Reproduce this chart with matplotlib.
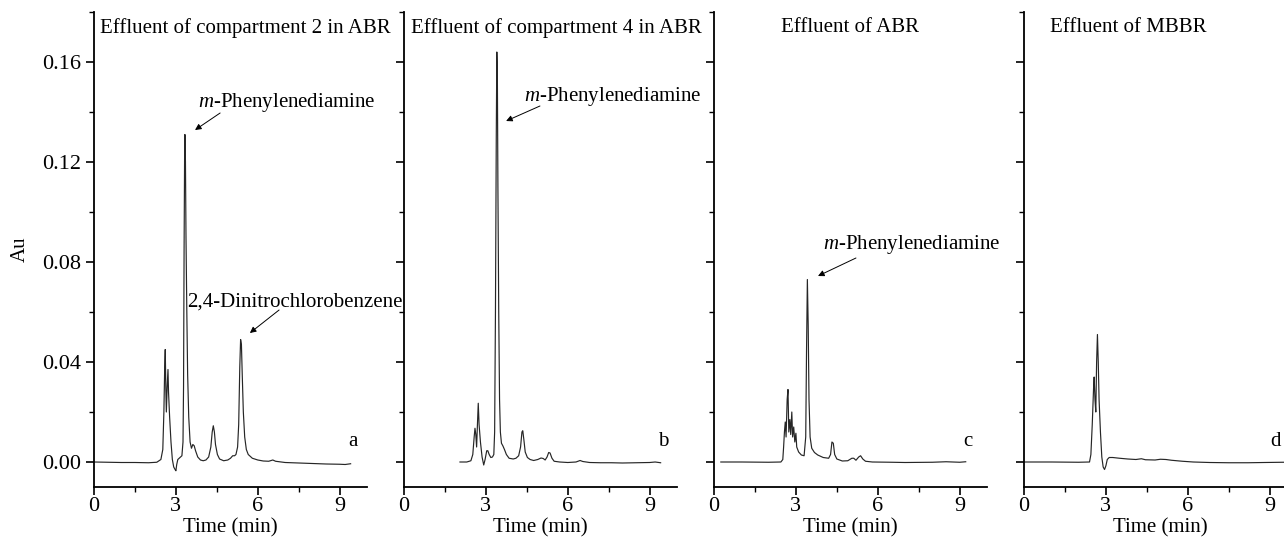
import matplotlib
matplotlib.use("Agg")
import matplotlib.pyplot as plt
from matplotlib.ticker import MultipleLocator

plt.rcParams['font.family'] = ['Liberation Serif', 'DejaVu Serif']
plt.rcParams['mathtext.fontset'] = 'custom'
plt.rcParams['mathtext.rm'] = 'Liberation Serif'
plt.rcParams['mathtext.it'] = 'Liberation Serif:italic'

# ---------------- data (time in min, absorbance in Au) ----------------
time_a = [0.0, 0.5, 1.0, 1.5, 2.0, 2.3, 2.45, 2.52, 2.56, 2.59, 2.61, 2.63, 2.65, 2.68, 2.71, 2.73,
          2.77, 2.82, 2.87, 2.92, 2.97, 3.00, 3.03, 3.07, 3.12, 3.17, 3.22, 3.26, 3.28, 3.30, 3.32,
          3.33, 3.35, 3.37, 3.40, 3.43, 3.47, 3.52, 3.57, 3.62, 3.67, 3.72, 3.80, 3.90, 4.00, 4.10,
          4.20, 4.28, 4.33, 4.37, 4.41, 4.45, 4.52, 4.60, 4.75, 4.90, 5.00, 5.08, 5.15, 5.20, 5.26,
          5.30, 5.34, 5.37, 5.40, 5.43, 5.47, 5.52, 5.58, 5.65, 5.80, 6.00, 6.20, 6.40, 6.55, 6.65,
          7.00, 7.50, 8.00, 8.50, 9.00, 9.20, 9.40]
au_a = [0.0000, -0.0001, -0.0002, -0.0002, -0.0003, -0.0001, 0.0010, 0.0050, 0.0200, 0.0380, 0.0450,
        0.0300, 0.0200, 0.0300, 0.0370, 0.0280, 0.0180, 0.0080, 0.0010, -0.0020, -0.0030, -0.0035,
        -0.0010, 0.0010, 0.0015, 0.0020, 0.0025, 0.0080, 0.0300, 0.0850, 0.1250, 0.1310, 0.1200,
        0.0900, 0.0600, 0.0350, 0.0180, 0.0080, 0.0055, 0.0070, 0.0065, 0.0045, 0.0020, 0.0008,
        0.0005, 0.0008, 0.0020, 0.0060, 0.0120, 0.0145, 0.0120, 0.0070, 0.0030, 0.0012, 0.0005,
        0.0008, 0.0015, 0.0025, 0.0025, 0.0030, 0.0060, 0.0150, 0.0380, 0.0490, 0.0470, 0.0350,
        0.0200, 0.0100, 0.0050, 0.0030, 0.0015, 0.0008, 0.0004, 0.0003, 0.0008, 0.0003, -0.0002,
        -0.0004, -0.0006, -0.0008, -0.0009, -0.0010, -0.0007]

time_b = [2.05, 2.30, 2.45, 2.52, 2.57, 2.60, 2.63, 2.66, 2.69, 2.72, 2.75, 2.80, 2.86, 2.92, 2.97,
          3.03, 3.07, 3.12, 3.18, 3.24, 3.29, 3.32, 3.35, 3.38, 3.40, 3.42, 3.44, 3.47, 3.50, 3.53,
          3.57, 3.62, 3.68, 3.75, 3.85, 4.00, 4.10, 4.20, 4.27, 4.32, 4.35, 4.39, 4.44, 4.52, 4.62,
          4.75, 4.90, 5.02, 5.10, 5.17, 5.24, 5.30, 5.35, 5.42, 5.50, 5.70, 6.00, 6.30, 6.45, 6.55,
          6.80, 7.20, 7.60, 8.00, 8.50, 9.00, 9.20, 9.40]
au_b = [0.0000, 0.0000, 0.0005, 0.0030, 0.0100, 0.0135, 0.0110, 0.0060, 0.0150, 0.0235, 0.0150,
        0.0080, 0.0020, -0.0012, 0.0010, 0.0045, 0.0045, 0.0030, 0.0018, 0.0020, 0.0030, 0.0120,
        0.0600, 0.1300, 0.1640, 0.1550, 0.1100, 0.0600, 0.0250, 0.0120, 0.0075, 0.0065, 0.0050,
        0.0030, 0.0015, 0.0012, 0.0015, 0.0025, 0.0060, 0.0120, 0.0125, 0.0090, 0.0040, 0.0018,
        0.0010, 0.0006, 0.0010, 0.0016, 0.0014, 0.0008, 0.0020, 0.0038, 0.0036, 0.0015, 0.0003,
        0.0000, -0.0002, 0.0000, 0.0006, 0.0002, -0.0002, -0.0003, -0.0003, -0.0004, -0.0003,
        -0.0002, 0.0000, -0.0003]

time_c = [0.25, 1.00, 2.00, 2.45, 2.52, 2.55, 2.58, 2.61, 2.64, 2.68, 2.71, 2.74, 2.78, 2.81, 2.85,
          2.88, 2.92, 2.96, 3.00, 3.03, 3.10, 3.20, 3.30, 3.36, 3.39, 3.42, 3.45, 3.48, 3.52, 3.58,
          3.68, 3.80, 4.00, 4.20, 4.27, 4.32, 4.37, 4.42, 4.50, 4.70, 4.90, 5.05, 5.12, 5.20, 5.30,
          5.37, 5.45, 5.55, 5.80, 6.50, 7.00, 8.00, 8.50, 9.00, 9.22]
au_c = [0.0000, 0.0000, -0.0001, 0.0000, 0.0010, 0.0060, 0.0120, 0.0160, 0.0100, 0.0250, 0.0290,
        0.0120, 0.0170, 0.0110, 0.0200, 0.0100, 0.0140, 0.0080, 0.0115, 0.0060, 0.0040, 0.0028,
        0.0025, 0.0100, 0.0450, 0.0730, 0.0550, 0.0250, 0.0100, 0.0055, 0.0038, 0.0028, 0.0018,
        0.0015, 0.0030, 0.0080, 0.0075, 0.0030, 0.0012, 0.0004, 0.0005, 0.0015, 0.0015, 0.0007,
        0.0020, 0.0025, 0.0012, 0.0003, 0.0000, -0.0001, -0.0002, -0.0001, 0.0001, -0.0001, 0.0001]

time_d = [0.00, 1.00, 2.00, 2.40, 2.45, 2.50, 2.55, 2.57, 2.60, 2.63, 2.66, 2.69, 2.72, 2.75, 2.80,
          2.85, 2.90, 2.95, 3.00, 3.05, 3.12, 3.25, 3.50, 3.80, 4.10, 4.30, 4.45, 4.80, 5.00, 5.20,
          5.40, 5.80, 6.20, 6.80, 7.50, 8.20, 8.80, 9.50, 10.00]
au_d = [0.0000, 0.0000, -0.0001, 0.0000, 0.0030, 0.0150, 0.0300, 0.0340, 0.0250, 0.0200, 0.0400,
        0.0510, 0.0400, 0.0250, 0.0120, 0.0020, -0.0020, -0.0030, -0.0015, 0.0010, 0.0018, 0.0018,
        0.0015, 0.0012, 0.0010, 0.0013, 0.0009, 0.0008, 0.0011, 0.0010, 0.0007, 0.0003, 0.0000,
        -0.0002, -0.0003, -0.0003, -0.0002, -0.0001, -0.0001]

titles = ["Effluent of compartment 2 in ABR", "Effluent of compartment 4 in ABR",
          "Effluent of ABR", "Effluent of MBBR"]
panel_letters = ["a", "b", "c", "d"]
x_ticks = [0, 3, 6, 9]
y_ticks = [0.00, 0.04, 0.08, 0.12, 0.16]
y_tick_labels = ["0.00", "0.04", "0.08", "0.12", "0.16"]

series = [(time_a, au_a), (time_b, au_b), (time_c, au_c), (time_d, au_d)]

# ---------------- figure ----------------
W, H = 1284, 541
fig = plt.figure(figsize=(W / 100, H / 100), dpi=100)

lefts_px = [94, 404, 714, 1024]
width_px = 273
top_px, bottom_px = 12, 487
FS = 15
TFS = 16

title_pos = [(0.22, 'left'), (0.26, 'left'), (4.98, 'center'), (3.81, 'center')]
letter_pos = [(9.5, 0.008), (9.5, 0.008), (9.3, 0.008), (9.2, 0.008)]

axes = []
for i, lp in enumerate(lefts_px):
    ax = fig.add_axes([lp / W, (H - bottom_px) / H, width_px / W, (bottom_px - top_px) / H])
    axes.append(ax)
    t, v = series[i]
    ax.plot(t, v, color='#262626', lw=0.85)
    ax.set_xlim(0, 10)
    ax.set_ylim(-0.01, 0.18)
    for s in ['top', 'right']:
        ax.spines[s].set_visible(False)
    for s in ['left', 'bottom']:
        ax.spines[s].set_linewidth(1.3)
    ax.set_xticks(x_ticks)
    ax.xaxis.set_minor_locator(MultipleLocator(1.5))
    ax.set_yticks(y_ticks)
    ax.yaxis.set_minor_locator(MultipleLocator(0.02))
    ax.tick_params(which='major', direction='out', length=6, width=1.2, labelsize=TFS)
    ax.tick_params(axis='x', which='major', pad=1)
    ax.tick_params(axis='y', which='major', pad=3)
    ax.tick_params(which='minor', direction='out', length=3.5, width=1.0)
    if i == 0:
        ax.set_yticklabels(y_tick_labels)
        ax.set_ylabel("Au", fontsize=FS, labelpad=9)
    else:
        ax.set_yticklabels([])
    ax.set_xlabel("Time (min)", fontsize=FS, labelpad=2)
    tx, ha = title_pos[i]
    ax.text(tx, 0.1736, titles[i], fontsize=FS, ha=ha, va='center', clip_on=False)
    lx, ly = letter_pos[i]
    ax.text(lx, ly, panel_letters[i], fontsize=FS, ha='center', va='center')

arrow_kw = dict(arrowstyle='-|>', color='black', lw=0.7, mutation_scale=9,
                shrinkA=0, shrinkB=0)

# panel a annotations (the long label runs under panel b, as in the original)
axes[0].text(3.81, 0.144, r"$m$-Phenylenediamine", fontsize=FS, ha='left', va='center')
axes[0].annotate('', xy=(3.70, 0.1328), xytext=(4.62, 0.1396), arrowprops=arrow_kw)
axes[0].text(3.40, 0.064, "2,4-Dinitrochlorobenzene", fontsize=FS, ha='left', va='center',
             clip_on=False)
axes[0].annotate('', xy=(5.71, 0.0516), xytext=(6.78, 0.0608), arrowprops=arrow_kw)

# panel b annotation
axes[1].text(4.40, 0.146, r"$m$-Phenylenediamine", fontsize=FS, ha='left', va='center')
axes[1].annotate('', xy=(3.74, 0.1364), xytext=(4.98, 0.1424), arrowprops=arrow_kw)

# panel c annotation
axes[2].text(4.0, 0.0868, r"$m$-Phenylenediamine", fontsize=FS, ha='left', va='center')
axes[2].annotate('', xy=(3.81, 0.0744), xytext=(5.2, 0.0816), arrowprops=arrow_kw)

fig.savefig("out.png", dpi=100)
